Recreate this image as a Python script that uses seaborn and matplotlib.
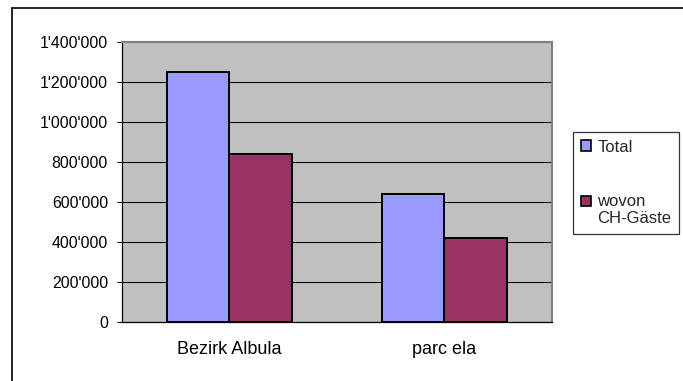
import matplotlib
matplotlib.use("Agg")
import matplotlib.pyplot as plt
from matplotlib.lines import Line2D
from matplotlib.patches import Patch, Rectangle
from matplotlib.legend_handler import HandlerPatch
from matplotlib.ticker import FuncFormatter
import pandas as pd
import seaborn as sns

# Overnight stays by region
regions = ["Bezirk Albula", "parc ela"]
series_names = ["Total", "wovon\nCH-Gäste"]
total = [1250000, 640000]
swiss_guests = [840000, 420000]
colors = ["#9999FF", "#993366"]
y_ticks = [0, 200000, 400000, 600000, 800000, 1000000, 1200000, 1400000]

df = pd.DataFrame({
    "region": regions * 2,
    "series": [series_names[0]] * 2 + [series_names[1]] * 2,
    "value": total + swiss_guests,
})

sns.set_theme(style="white")
plt.rcParams["font.family"] = ["Liberation Sans", "DejaVu Sans"]

fig = plt.figure(figsize=(6.83, 3.81), dpi=100)
ax = fig.add_axes([122 / 683, 1 - 322 / 381, (551.7 - 122) / 683, (322 - 41.7) / 381])
ax.set_facecolor("#C0C0C0")

sns.barplot(data=df, x="region", y="value", hue="series", palette=colors,
            saturation=1, width=0.58, edgecolor="black", linewidth=1.4,
            ax=ax, legend=False, zorder=3)

ax.set_ylim(0, 1400000)
ax.set_xlim(-0.5, 1.5)
ax.set_yticks(y_ticks)


def swiss_fmt(v, _pos):
    return f"{int(v):,}".replace(",", "'")


ax.yaxis.set_major_formatter(FuncFormatter(swiss_fmt))
ax.set_xticks([0, 1])
ax.set_xticklabels(regions)
ax.set_xticks([-0.5, 0.5, 1.5], minor=True)
ax.tick_params(axis="x", which="major", length=0, pad=14, labelsize=13, colors="black")
ax.tick_params(axis="x", which="minor", length=4.3, width=0.8, color="black", direction="out")
ax.tick_params(axis="y", length=3.6, width=0.8, color="black", direction="out",
               pad=6.5, labelsize=11.4, labelcolor="black", left=True)
ax.set_xlabel("")
ax.set_ylabel("")

ax.yaxis.grid(True, color="black", linewidth=0.75)
ax.set_axisbelow(True)
for g in ax.get_ygridlines():
    g.set_zorder(1)

for side in ("left", "bottom"):
    ax.spines[side].set_color("black")
    ax.spines[side].set_linewidth(0.9)
for side in ("top", "right"):
    ax.spines[side].set_color("#808080")
    ax.spines[side].set_linewidth(1.5)


def legend_square(legend, orig_handle, xdescent, ydescent, width, height, fontsize):
    # keep the key square level with the first line of a wrapped label
    shift = 0.55 * fontsize if "\n" in orig_handle.get_label() else 0.0
    return Rectangle((-xdescent, -ydescent + shift), width, height)


handles = [Patch(facecolor=c, edgecolor="black", linewidth=1.2, label=n)
           for c, n in zip(colors, series_names)]
leg = fig.legend(handles, series_names, loc="upper left",
                 bbox_to_anchor=(573 / 683, 1 - 132 / 381),
                 frameon=True, fancybox=False, shadow=False,
                 handlelength=0.6, handleheight=0.6, handletextpad=0.4,
                 labelspacing=2.35, borderpad=0.45, fontsize=12,
                 borderaxespad=0,
                 handler_map={Patch: HandlerPatch(patch_func=legend_square)})
leg.get_frame().set_edgecolor("black")
leg.get_frame().set_linewidth(0.9)

# Chart area border (left and top edges visible)
fig.add_artist(Line2D([12 / 683, 12 / 683], [0, 1 - 8 / 381], color="black", linewidth=1.2))
fig.add_artist(Line2D([12 / 683, 1], [1 - 8 / 381, 1 - 8 / 381], color="black", linewidth=1.2))

fig.savefig("out.png", dpi=100)
